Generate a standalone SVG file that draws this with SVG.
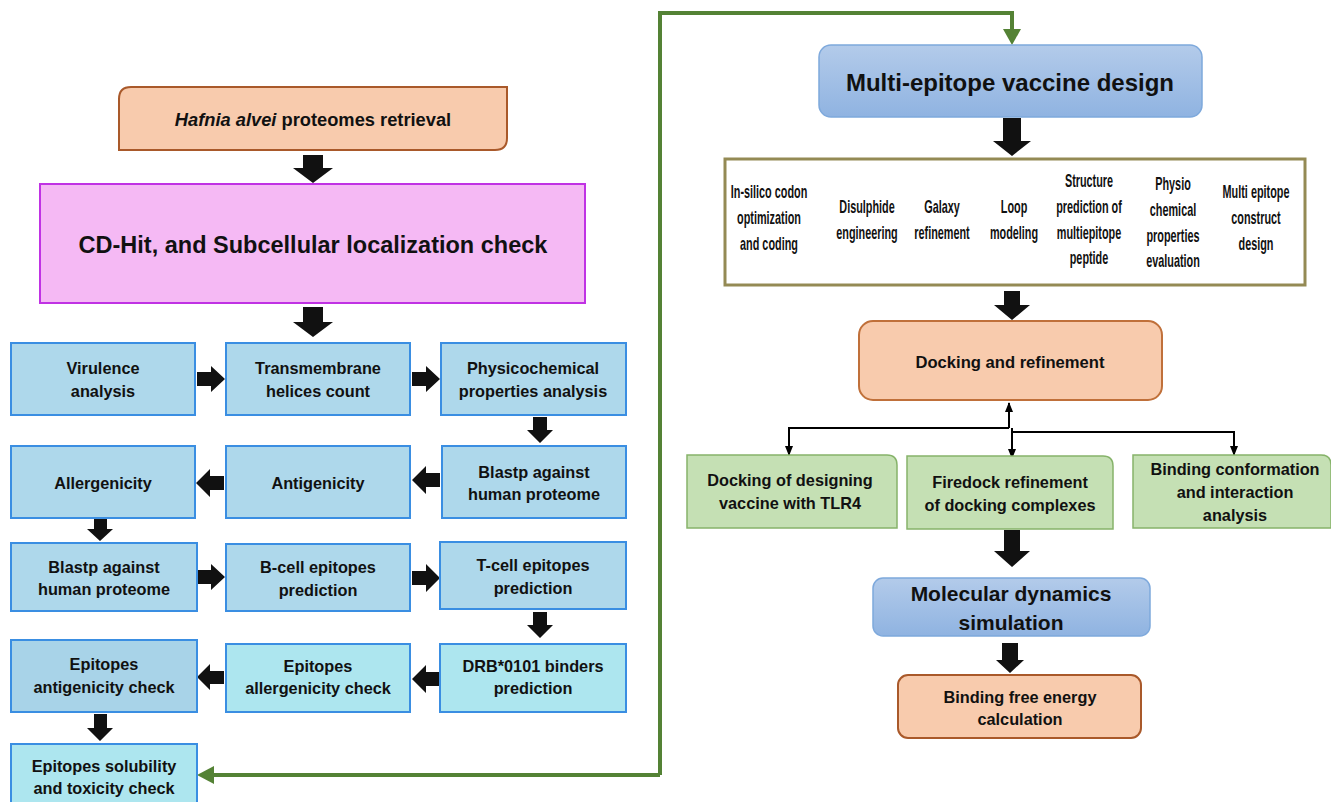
<svg xmlns="http://www.w3.org/2000/svg" width="1331" height="802" viewBox="0 0 1331 802">
<defs>
<linearGradient id="gBlue" x1="0" y1="0" x2="0" y2="1">
<stop offset="0" stop-color="#b3cbea"/>
<stop offset="1" stop-color="#8fb3e1"/>
</linearGradient>
<marker id="ahs" viewBox="0 0 10 10" refX="9" refY="5" markerWidth="10" markerHeight="10" orient="auto" markerUnits="userSpaceOnUse">
<path d="M0,1 L10,5 L0,9 Z" fill="#000"/>
</marker>
</defs>
<style>
text{font-family:"Liberation Sans",Arial,sans-serif;font-weight:bold;fill:#111;text-anchor:middle;dominant-baseline:central}
.t15{font-size:16.3px}
.blue{fill:#aed8eb;stroke:#3a8ee2;stroke-width:2}
.cyan{fill:#ade6ef;stroke:#3a8ee2;stroke-width:2}
.blue2{fill:#a8d3e8;stroke:#3a8ee2;stroke-width:2}
.peach{fill:#f8cbad;stroke:#a9592a;stroke-width:2}
.green{fill:#c5e0b4;stroke:#86b36a;stroke-width:1.5}
.blk{fill:#111}
.cond{font-weight:bold;font-size:17.5px}
.thin{fill:none;stroke:#000;stroke-width:2}
</style>

<g id="connectors">
<path d="M660,775 V13 H1012 V31" fill="none" stroke="#548235" stroke-width="4"/>
<path d="M1003,29 L1021,29 L1012,45 Z" fill="#548235"/>
<path d="M660,775 H212" fill="none" stroke="#548235" stroke-width="4"/>
<path d="M214,766 L214,784 L197,775 Z" fill="#548235"/>
<path class="blk" d="M303,155 H323 V168 H333 L313,183 L293,168 H303 Z"/>
<path class="blk" d="M303,307 H323 V322 H333 L313,337 L293,322 H303 Z"/>
<path class="blk" d="M197,372 H211 V366 L225,379 L211,392 V386 H197 Z"/>
<path class="blk" d="M412,372 H426 V366 L440,379 L426,392 V386 H412 Z"/>
<path class="blk" d="M533,417 H547 V430 H553 L540,443 L527,430 H533 Z"/>
<path class="blk" d="M440,473 H426 V466 L412,480 L426,494 V487 H440 Z"/>
<path class="blk" d="M224,476 H210 V469 L196,483 L210,497 V490 H224 Z"/>
<path class="blk" d="M94,519 H107 V529 H113 L100,541 L87,529 H94 Z"/>
<path class="blk" d="M197,570 H211 V564 L225,577 L211,590 V584 H197 Z"/>
<path class="blk" d="M412,571 H426 V564 L440,578 L426,592 V585 H412 Z"/>
<path class="blk" d="M533,612 H547 V625 H553 L540,638 L527,625 H533 Z"/>
<path class="blk" d="M440,672 H426 V665 L412,679 L426,693 V686 H440 Z"/>
<path class="blk" d="M224,671 H210 V664 L197,677 L210,690 V684 H224 Z"/>
<path class="blk" d="M94,714 H107 V728 H113 L100,741 L87,728 H94 Z"/>
<path class="blk" d="M1003,118 H1021 V141 H1031 L1012,156 L993,141 H1003 Z"/>
<path class="blk" d="M1004,291 H1020 V305 H1030 L1012,320 L994,305 H1004 Z"/>
<path class="blk" d="M1004,530 H1020 V551 H1030 L1012,567 L994,551 H1004 Z"/>
<path class="blk" d="M1002,643 H1018 V660 H1024 L1010,673 L996,660 H1002 Z"/>
<path class="thin" d="M1009,428 V403" marker-end="url(#ahs)"/>
<path class="thin" d="M1009,428 H789 V455" marker-end="url(#ahs)"/>
<path class="thin" d="M1012,428 V458" marker-end="url(#ahs)"/>
<path class="thin" d="M1012,432 H1234 V455" marker-end="url(#ahs)"/>
</g>

<g id="n-hafnia">
<path class="peach" d="M131,87 H507 V138 Q507,150 495,150 H119 V99 Q119,87 131,87 Z"/>
<text x="313" y="119" style="font-size:18.3px"><tspan font-style="italic">Hafnia alvei</tspan> proteomes retrieval</text>
</g>
<g id="n-cdhit">
<rect x="40" y="184" width="545" height="119" fill="#f5b9f4" stroke="#c032e4" stroke-width="2"/>
<text x="313" y="245" style="font-size:23.5px">CD-Hit, and Subcellular localization check</text>
</g>

<g id="n-virulence"><rect class="blue" x="11" y="343" width="184" height="72"/>
<text class="t15" x="103" y="368">Virulence</text><text class="t15" x="103" y="391">analysis</text></g>
<g id="n-transmembrane"><rect class="blue" x="226" y="343" width="184" height="72"/>
<text class="t15" x="318" y="368">Transmembrane</text><text class="t15" x="318" y="391">helices count</text></g>
<g id="n-physico"><rect class="blue" x="441" y="343" width="185" height="72"/>
<text class="t15" x="533" y="368">Physicochemical</text><text class="t15" x="533" y="391">properties analysis</text></g>

<g id="n-allergenicity"><rect class="blue" x="11" y="446" width="184" height="72"/>
<text class="t15" x="103" y="483">Allergenicity</text></g>
<g id="n-antigenicity"><rect class="blue" x="226" y="446" width="184" height="72"/>
<text class="t15" x="318" y="483">Antigenicity</text></g>
<g id="n-blastp1"><rect class="blue" x="442" y="446" width="184" height="72"/>
<text class="t15" x="534" y="472">Blastp against</text><text class="t15" x="534" y="494">human proteome</text></g>

<g id="n-blastp2"><rect class="blue" x="11" y="543" width="186" height="68"/>
<text class="t15" x="104" y="567">Blastp against</text><text class="t15" x="104" y="589">human proteome</text></g>
<g id="n-bcell"><rect class="blue" x="226" y="544" width="184" height="67"/>
<text class="t15" x="318" y="567">B-cell epitopes</text><text class="t15" x="318" y="590">prediction</text></g>
<g id="n-tcell"><rect class="blue" x="440" y="542" width="186" height="67"/>
<text class="t15" x="533" y="565">T-cell epitopes</text><text class="t15" x="533" y="588">prediction</text></g>

<g id="n-epi-antigen"><rect class="blue2" x="11" y="640" width="186" height="72"/>
<text class="t15" x="104" y="664">Epitopes</text><text class="t15" x="104" y="687">antigenicity check</text></g>
<g id="n-epi-allergen"><rect class="cyan" x="226" y="644" width="184" height="68"/>
<text class="t15" x="318" y="666">Epitopes</text><text class="t15" x="318" y="688">allergenicity check</text></g>
<g id="n-drb"><rect class="cyan" x="440" y="644" width="186" height="68"/>
<text class="t15" x="533" y="666">DRB*0101 binders</text><text class="t15" x="533" y="688">prediction</text></g>

<g id="n-solubility"><rect class="cyan" x="11" y="744" width="186" height="70"/>
<text class="t15" x="104" y="766">Epitopes solubility</text><text class="t15" x="104" y="788">and toxicity check</text></g>

<g id="n-multi">
<rect x="819" y="45" width="383" height="72" rx="12" fill="url(#gBlue)" stroke="#7ea9dc" stroke-width="1.5"/>
<text x="1010" y="82" style="font-size:24px">Multi-epitope vaccine design</text>
</g>

<g id="n-steps">
<rect x="725" y="159" width="580" height="126" fill="#fff" stroke="#948a54" stroke-width="3"/>
<g transform="translate(769,0) scale(0.62,1)"><text class="cond" x="0" y="192">In-silico codon</text><text class="cond" x="0" y="218">optimization</text><text class="cond" x="0" y="244">and coding</text></g>
<g transform="translate(867,0) scale(0.62,1)"><text class="cond" x="0" y="207">Disulphide</text><text class="cond" x="0" y="233">engineering</text></g>
<g transform="translate(942,0) scale(0.62,1)"><text class="cond" x="0" y="207">Galaxy</text><text class="cond" x="0" y="233">refinement</text></g>
<g transform="translate(1014,0) scale(0.62,1)"><text class="cond" x="0" y="207">Loop</text><text class="cond" x="0" y="233">modeling</text></g>
<g transform="translate(1089,0) scale(0.62,1)"><text class="cond" x="0" y="181">Structure</text><text class="cond" x="0" y="207">prediction of</text><text class="cond" x="0" y="233">multiepitope</text><text class="cond" x="0" y="258">peptide</text></g>
<g transform="translate(1173,0) scale(0.62,1)"><text class="cond" x="0" y="184">Physio</text><text class="cond" x="0" y="210">chemical</text><text class="cond" x="0" y="236">properties</text><text class="cond" x="0" y="261">evaluation</text></g>
<g transform="translate(1256,0) scale(0.62,1)"><text class="cond" x="0" y="192">Multi epitope</text><text class="cond" x="0" y="218">construct</text><text class="cond" x="0" y="244">design</text></g>
</g>

<g id="n-docking">
<rect x="859" y="321" width="303" height="79" rx="14" class="peach" style="stroke:#c0703a"/>
<text x="1010" y="362" style="font-size:16.6px">Docking and refinement</text>
</g>

<g id="n-tlr4">
<path class="green" d="M687,455 H887 Q897,455 897,465 V528 H687 Z"/>
<text class="t15" x="790" y="480">Docking of designing</text><text class="t15" x="790" y="503">vaccine with TLR4</text>
</g>
<g id="n-firedock">
<path class="green" d="M907,456 H1103 Q1113,456 1113,466 V529 H907 Z"/>
<text class="t15" x="1010" y="482">Firedock refinement</text><text class="t15" x="1010" y="505">of docking complexes</text>
</g>
<g id="n-binding-conf">
<path class="green" d="M1133,455 H1321 Q1331,455 1331,465 V528 H1133 Z"/>
<text class="t15" x="1235" y="469">Binding conformation</text><text class="t15" x="1235" y="492">and interaction</text><text class="t15" x="1235" y="515">analysis</text>
</g>

<g id="n-md">
<rect x="873" y="578" width="277" height="58" rx="10" fill="url(#gBlue)" stroke="#7ea9dc" stroke-width="1.5"/>
<text x="1011" y="593" style="font-size:21px">Molecular dynamics</text>
<text x="1011" y="622" style="font-size:21px">simulation</text>
</g>

<g id="n-bfe">
<rect x="898" y="675" width="243" height="63" rx="10" class="peach"/>
<text class="t15" x="1020" y="697">Binding free energy</text><text class="t15" x="1020" y="719">calculation</text>
</g>
</svg>
